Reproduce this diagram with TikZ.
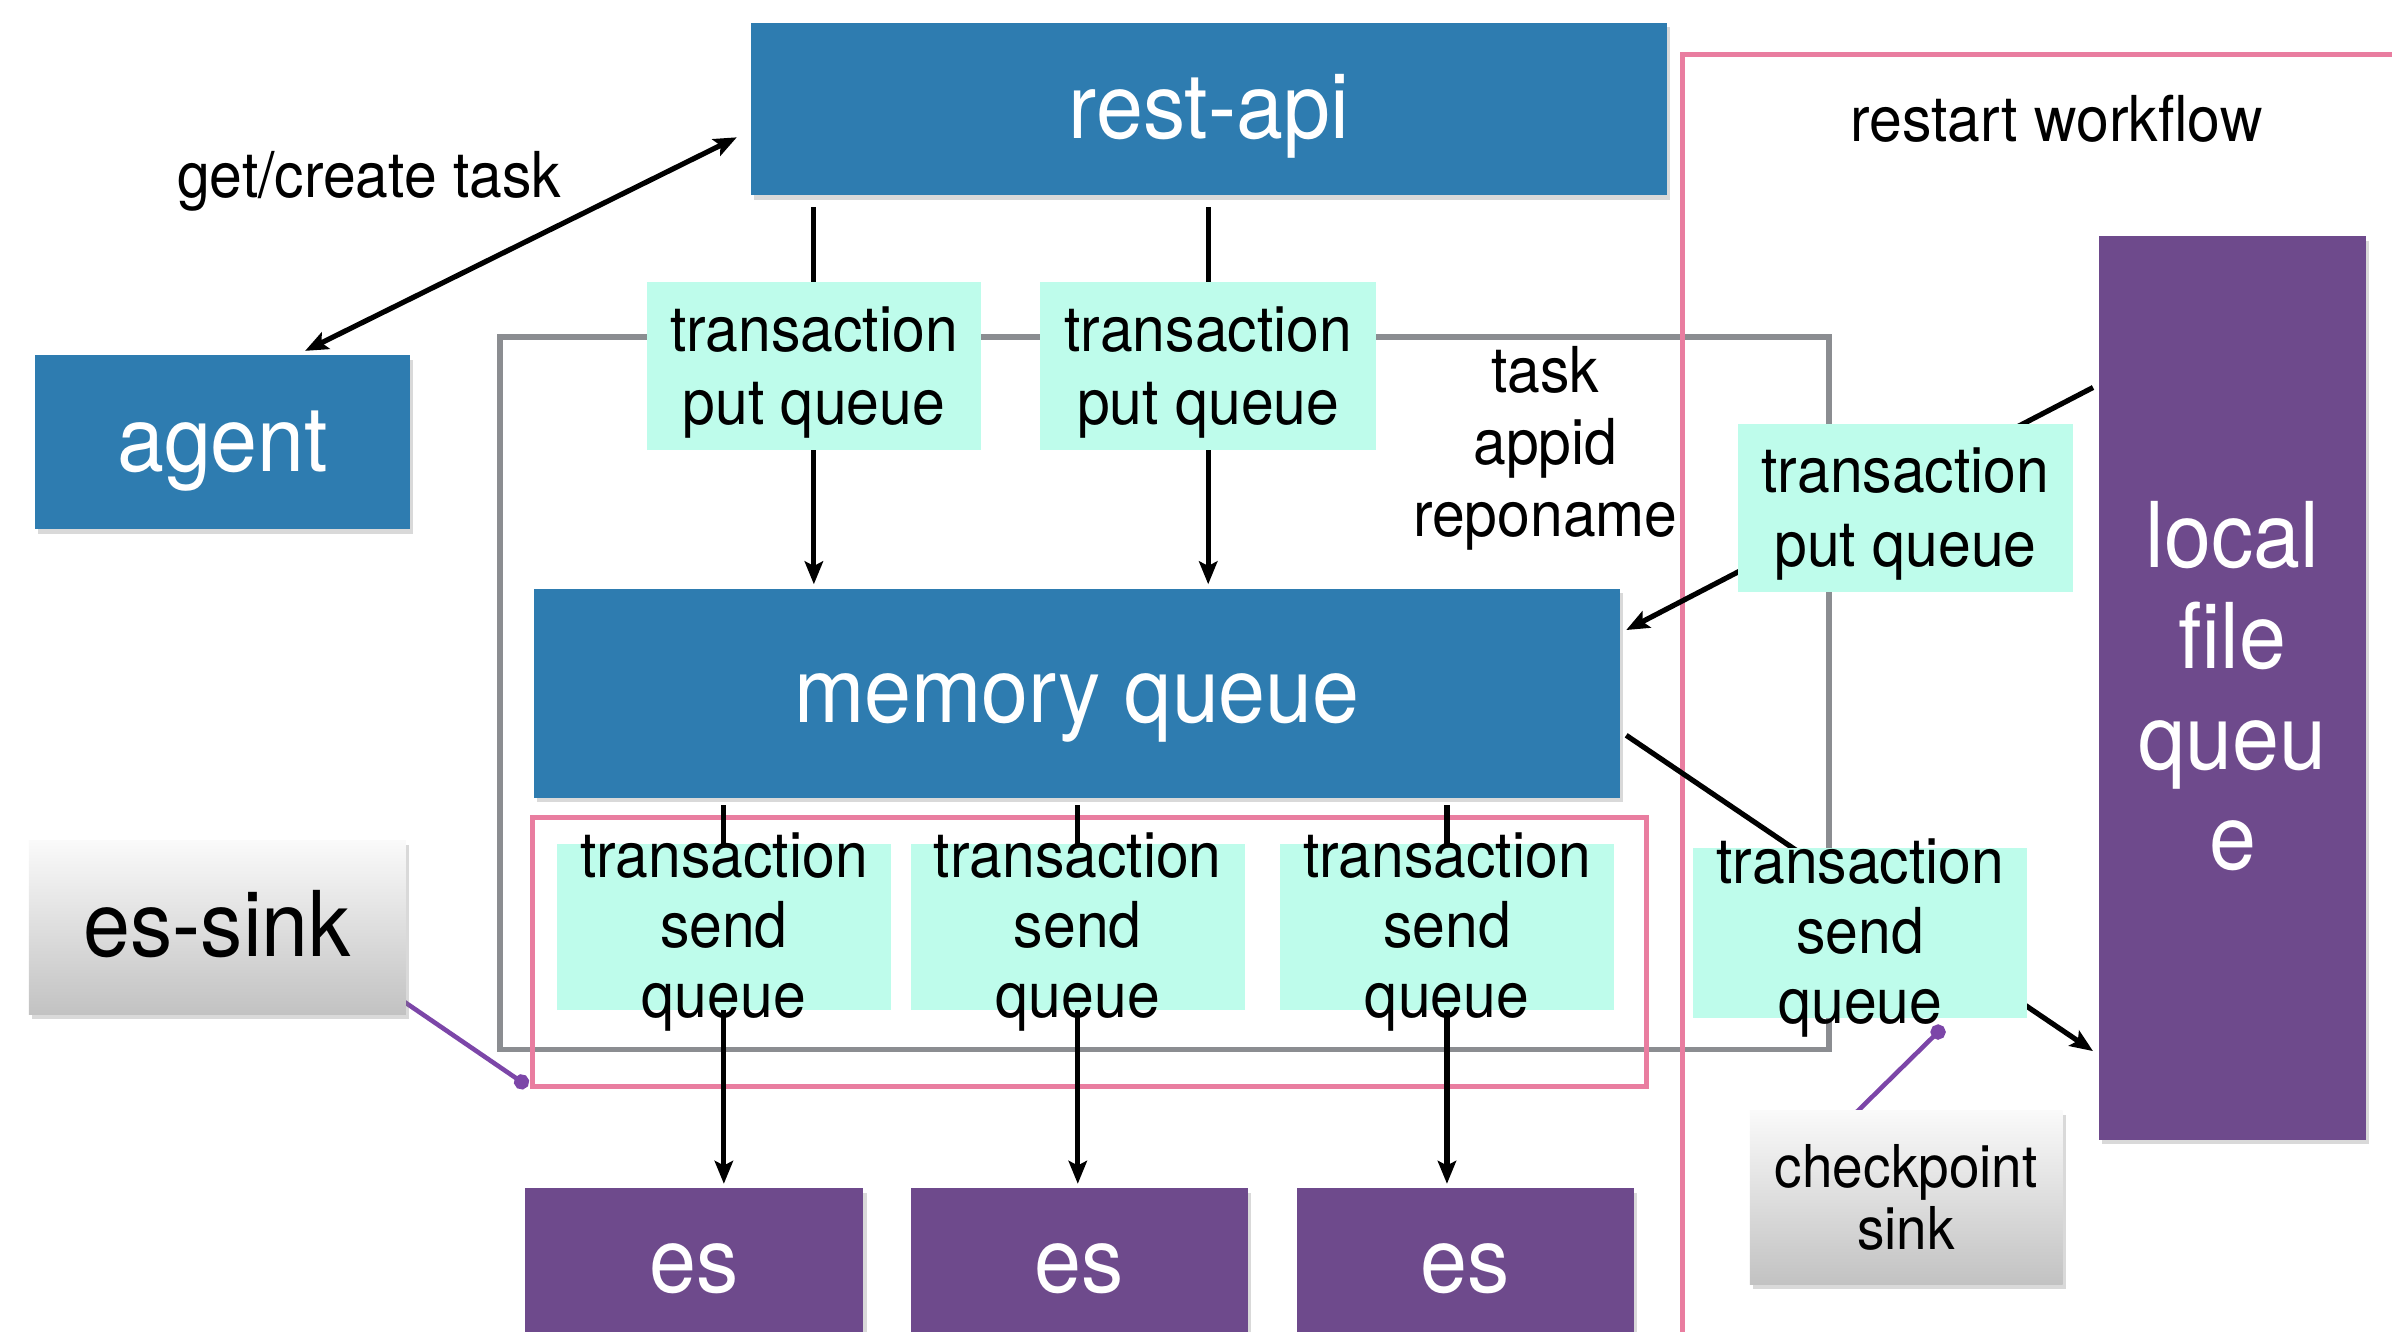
\documentclass[tikz,border=0pt]{standalone}
\usepackage{fontspec}
\setmainfont{TeX Gyre Heros}[FakeStretch=0.93]
\usetikzlibrary{arrows.meta,calc,shadows}
\definecolor{apiblue}{HTML}{2E7CB0}
\definecolor{storeviolet}{HTML}{6E4A8C}
\definecolor{queuemint}{HTML}{BEFCEB}
\definecolor{framepink}{HTML}{E97DA0}
\definecolor{framegray}{HTML}{8B8D91}
\definecolor{linkviolet}{HTML}{7C46A8}
\definecolor{sinktop}{HTML}{FAFAFA}
\definecolor{sinkbottom}{HTML}{C2C2C2}
\pgfdeclarelayer{back}
\pgfsetlayers{back,main}
\newcommand\txtlarge{\fontsize{59.5}{66}\selectfont}
\newcommand\txtsmall{\fontsize{41.5}{47}\selectfont}
\newcommand\txtput{\fontsize{41.5}{48}\selectfont}
\newcommand\txtsend{\fontsize{41.5}{46}\selectfont}

\begin{document}
\begin{tikzpicture}[x=1pt,y=-1pt,
  box/.style={rectangle, inner sep=0pt, outer sep=0pt},
  shade box/.style={drop shadow={opacity=0.3, shadow xshift=2pt, shadow yshift=-3pt}},
  oneline/.style={text height=38pt, text depth=0pt},
  service/.style={box, shade box, fill=apiblue, text=white, font=\txtlarge, oneline},
  store/.style={box, shade box, fill=storeviolet, text=white, font=\txtlarge},
  queuebox/.style={box, fill=queuemint},
  plaintext/.style={inner sep=0pt, font=\txtsmall, align=center},
  sinkbox/.style={box, shade box, top color=sinktop, bottom color=sinkbottom},
  frame/.style={box, draw, fill=none},
  tip/.tip={Stealth[length=15pt,width=12pt,inset=3pt]},
  flow/.style={line width=3.4pt, -tip},
  dflow/.style={line width=3.4pt, tip-tip},
  link/.style={line width=3pt, draw=linkviolet, -{Circle[length=10pt]}, linkviolet}
]
\useasboundingbox (0,0) rectangle (1568,873);

% group frames
\begin{pgfonlayer}{back}
  \node[frame, draw=framegray, line width=3.8pt, minimum width=871pt, minimum height=467pt] (core) at (763.5,454.5) {};
  \node[frame, draw=framepink, line width=3.3pt, minimum width=730pt, minimum height=176pt] (sendgrp) at (714,624) {};
  \node[frame, draw=framepink, line width=3.3pt, minimum width=497pt, minimum height=864pt] (restart) at (1351.5,468) {};
\end{pgfonlayer}

% services
\node[service, minimum width=601pt, minimum height=113pt] (rest) at (792.5,71.5) {rest-api};
\node[service, minimum width=246pt, minimum height=114pt] (agent) at (146,290) {agent};
\node[service, minimum width=712pt, minimum height=137pt] (memq) at (706,454.5) {memory queue};

% put queues
\node[queuebox, minimum width=219pt, minimum height=110pt] (tpq1) at (533.5,240) {};
\node[queuebox, minimum width=220pt, minimum height=110pt] (tpq2) at (792,240) {};
\node[queuebox, minimum width=220pt, minimum height=110pt] (tpq3) at (1249,333) {};
\node[plaintext, font=\txtput, yshift=-4pt] (tpq1t) at (tpq1) {transaction\\put queue};
\node[plaintext, font=\txtput, yshift=-4pt] (tpq2t) at (tpq2) {transaction\\put queue};
\node[plaintext, font=\txtput, yshift=-4pt] (tpq3t) at (tpq3) {transaction\\put queue};

% send queues
\node[queuebox, minimum width=219pt, minimum height=109pt] (sq1) at (474.5,607.5) {};
\node[queuebox, minimum width=219pt, minimum height=109pt] (sq2) at (706.5,607.5) {};
\node[queuebox, minimum width=219pt, minimum height=109pt] (sq3) at (948.5,607.5) {};
\node[queuebox, minimum width=219pt, minimum height=111pt] (sq4) at (1219.5,611.5) {};
\node[plaintext, font=\txtsend, yshift=-3.5pt] (sq1t) at (sq1) {transaction\\send\\queue};
\node[plaintext, font=\txtsend, yshift=-3.5pt] (sq2t) at (sq2) {transaction\\send\\queue};
\node[plaintext, font=\txtsend, yshift=-3.5pt] (sq3t) at (sq3) {transaction\\send\\queue};
\node[plaintext, font=\txtsend, yshift=-3.5pt] (sq4t) at (sq4) {transaction\\send\\queue};

% stores
\node[store, oneline, minimum width=222pt, minimum height=98pt] (es1) at (455,828) {es};
\node[store, oneline, minimum width=221pt, minimum height=98pt] (es2) at (707.5,828) {es};
\node[store, oneline, minimum width=221pt, minimum height=98pt] (es3) at (960.5,828) {es};
\node[store, minimum width=175pt, minimum height=592pt] (lfq) at (1463.5,451) {};
\node[plaintext, font=\txtlarge, text=white, yshift=1pt] (lfqt) at (lfq) {local\\file\\queu\\e};

% sinks
\node[sinkbox, oneline, minimum width=247pt, minimum height=114pt, font=\txtlarge] (essink) at (142.5,608) {es-sink};
\node[sinkbox, align=center, minimum width=205pt, minimum height=114pt, font=\fontsize{38.7}{41}\selectfont] (chk) at (1249.5,785) {checkpoint\\sink};

% free labels
\node[plaintext, yshift=-4pt] (gct) at (242,115) {get/create task};
\node[plaintext, yshift=-4pt] (meta) at (1013,290) {task\\appid\\reponame};
\node[plaintext] (rw) at (1348,78) {restart workflow};

% connectors
\begin{pgfonlayer}{back}
  \draw[dflow] ($(rest.south west)+(-9,-38)$) -- ($(agent.north)+(54,-3)$);
  \draw[flow, shorten <=8pt, shorten >=3pt] (rest.south -| tpq1) -- (memq.north -| tpq1);
  \draw[flow, shorten <=8pt, shorten >=3pt] (rest.south -| tpq2) -- (memq.north -| tpq2);
  \draw[flow, shorten <=5pt, shorten >=3pt] (memq.south -| sq1) -- (es1.north -| sq1);
  \draw[flow, shorten <=5pt, shorten >=3pt] (memq.south -| sq2) -- (es2.north -| sq2);
  \draw[flow, shorten <=5pt, shorten >=3pt] (memq.south -| sq3) -- (es3.north -| sq3);
  \draw[flow] ($(lfq.north west)+(-4,99)$) -- ($(memq.north east)+(4,27)$);
  \draw[flow] ($(memq.south east)+(4,-41)$) -- ($(lfq.south west)+(-4,-58)$);
  \draw[link] ($(essink.south east)+(-2,-9)$) -- ($(sendgrp.south west)+(-3,0)$);
  \draw[link] ($(chk.north)+(-33.5,2)$) -- ($(sq4.south)+(54.5,6)$);
\end{pgfonlayer}
\end{tikzpicture}
\end{document}
